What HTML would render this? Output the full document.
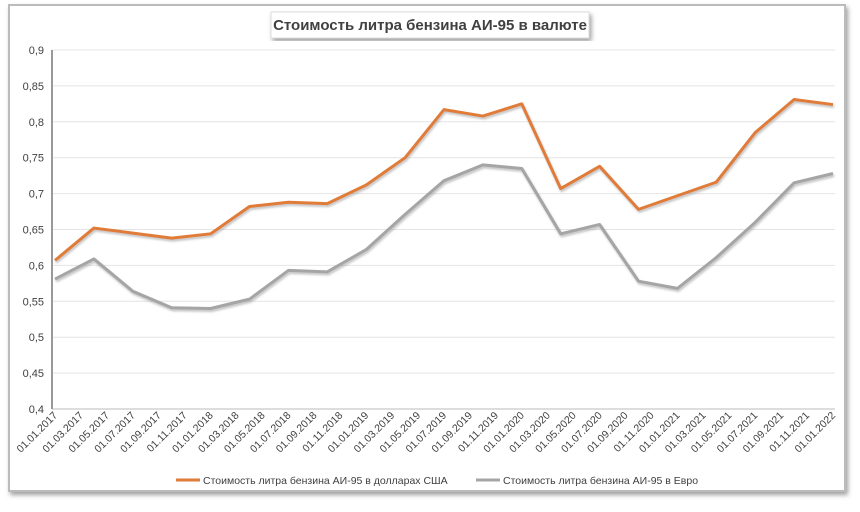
<!DOCTYPE html>
<html><head><meta charset="utf-8"><style>
body{margin:0;width:860px;height:507px;background:#fff;font-family:"Liberation Sans",sans-serif;overflow:hidden}
</style></head><body>
<svg width="860" height="507">
<defs><filter id="sh" x="-5%" y="-5%" width="110%" height="115%"><feDropShadow dx="2" dy="3" stdDeviation="2.5" flood-color="#777" flood-opacity="0.7"/></filter>
<filter id="ls"><feDropShadow dx="1" dy="2" stdDeviation="1" flood-color="#999" flood-opacity="0.6"/></filter></defs>
<rect x="9" y="5" width="836" height="486" fill="#fff" stroke="#bbb" stroke-width="2" filter="url(#sh)"/>
<rect x="271" y="12" width="318" height="26" fill="#fff" stroke="#ddd" filter="url(#sh)"/>
<text x="430" y="30" text-anchor="middle" font-size="15" font-weight="bold" fill="#404040">Стоимость литра бензина АИ-95 в валюте</text>
<g id="grid"></g><g id="lines"></g>
<g>
<line x1="176" y1="480" x2="200" y2="480" stroke="#e07b39" stroke-width="3"/>
<text x="203" y="484" font-size="10.5" fill="#404040">Стоимость литра бензина АИ-95 в долларах США</text>
<line x1="476" y1="480" x2="500" y2="480" stroke="#a5a5a5" stroke-width="3"/>
<text x="503" y="484" font-size="10.5" fill="#404040">Стоимость литра бензина АИ-95 в Евро</text>
</g>
</svg>
<script>
const labels=[];for(let y=2017;y<=2022;y++)for(const m of ['01','03','05','07','09','11']){if(y===2022&&m!=='01')continue;labels.push('01.'+m+'.'+y);}
const yTicks=[0.4,0.45,0.5,0.55,0.6,0.65,0.7,0.75,0.8,0.85,0.9];
const usd=[0.607,0.652,0.645,0.638,0.644,0.682,0.688,0.686,0.712,0.750,0.817,0.808,0.825,0.707,0.738,0.678,0.697,0.716,0.785,0.831,0.824];
const eur=[0.581,0.609,0.564,0.541,0.540,0.553,0.593,0.591,0.622,0.671,0.718,0.740,0.735,0.644,0.657,0.578,0.568,0.611,0.660,0.715,0.728];
const NS='http://www.w3.org/2000/svg';
const X0=55,X1=833,Y0=409,Y1=50;
const xm=m=>X0+m*(X1-X0)/60;
const y=v=>Y0-(v-0.4)/(0.5)*(Y0-Y1);
function mk(t,a,p){const e=document.createElementNS(NS,t);for(const k in a)e.setAttribute(k,a[k]);p.appendChild(e);return e;}
const g=document.getElementById('grid'),L=document.getElementById('lines');
yTicks.forEach(v=>{
 const l=mk('line',{x1:52,x2:835,y1:y(v),y2:y(v),stroke:v===0.4?'#bbb':'#e4e4e4','stroke-width':1},g);
 
 
 const t=mk('text',{x:44,y:y(v)+4,'text-anchor':'end','font-size':'11',fill:'#404040'},g);
 t.textContent=String(+v.toFixed(2)).replace('.',',');
 
 
});
const ax=mk('line',{x1:52,x2:52,y1:50,y2:409,stroke:'#999','stroke-width':2},g);


labels.forEach((s,i)=>{
 const xx=xm(i*2);
 const t=mk('text',{x:xx+3,y:416,'text-anchor':'end','font-size':'10.5',fill:'#404040',transform:`rotate(-45 ${xx+3} 416)`},g);
 t.textContent=s;
 
 
});
function series(d,c,n){
 const pts=d.map((v,i)=>xm(i*3)+','+y(v)).join(' ');
 const p=mk('polyline',{points:pts,fill:'none',stroke:c,'stroke-width':3,'stroke-linejoin':'round',filter:'url(#ls)'},L);
 
 
}
series(eur,'#a5a5a5','eur-line');
series(usd,'#e07b39','usd-line');
</script>
</body></html>
